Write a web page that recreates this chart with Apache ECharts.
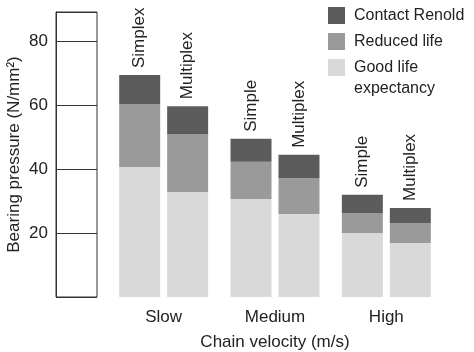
<!DOCTYPE html>
<html><head><meta charset="utf-8">
<script src="https://cdn.jsdelivr.net/npm/echarts@6/dist/echarts.min.js"></script>
<style>html,body{margin:0;padding:0;background:#fff}#c{width:474px;height:352px}</style>
</head><body><div id="c"></div>
<script>
const categories = ['Slow', 'Medium', 'High'];
const yTicks = [20, 40, 60, 80];
const leftLabels = ['Simplex', 'Simple', 'Simple'];
const rightLabels = ['Multiplex', 'Multiplex', 'Multiplex'];
// stacked segment sizes (N/mm2)
const goodSimplex = [40.6, 30.6, 20.0];
const reducedSimplex = [19.7, 11.6, 6.2];
const contactSimplex = [9.0, 7.2, 5.7];
const goodMultiplex = [32.8, 25.9, 16.9];
const reducedMultiplex = [18.1, 11.3, 6.2];
const contactMultiplex = [8.7, 7.2, 4.7];
const seriesNames = ['Contact Renold', 'Reduced life', 'Good life\nexpectancy'];

const FONT = '"Liberation Sans", Arial, sans-serif';
const TXT = '#222';
const C_CONTACT = '#5b5c5b', C_RED = '#9a9a9a', C_GOOD = '#d9d9d9';
const YMAX = 89;

function bar(name, data, stack, color, labels) {
  const s = {
    name, type: 'bar', stack, data, xAxisIndex: 1, yAxisIndex: 1,
    barWidth: 41, barGap: '17%',
    itemStyle: { color }, emphasis: { disabled: true }
  };
  if (labels) {
    s.label = {
      show: true, position: 'top', rotate: 90, align: 'left', verticalAlign: 'middle',
      distance: 7, fontFamily: FONT, fontSize: 17, color: TXT,
      formatter: p => labels[p.dataIndex]
    };
  }
  return s;
}

const chart = echarts.init(document.getElementById('c'), null, { renderer: 'canvas' });
chart.setOption({
  animation: false,
  textStyle: { fontFamily: FONT },
  grid: [
    { left: 56, width: 41, top: 12, height: 285, show: true, borderColor: '#333', borderWidth: 1, backgroundColor: '#fff', outerBoundsMode: 'none' },
    { left: 108, right: 32, top: 12, height: 285, outerBoundsMode: 'none' }
  ],
  legend: [
    {
      data: [seriesNames[0], seriesNames[1]],
      orient: 'vertical', left: 328, top: 7, itemWidth: 17, itemHeight: 17, itemGap: 9,
      icon: 'rect', selectedMode: false, padding: 0,
      textStyle: { fontFamily: FONT, fontSize: 16, color: TXT, lineHeight: 17, padding: [0, 0, 0, 4] }
    },
    {
      data: [seriesNames[2]],
      orient: 'vertical', left: 328, top: 36, itemWidth: 17, itemHeight: 17,
      icon: 'rect', selectedMode: false, padding: 0,
      formatter: name => '\n' + name,
      textStyle: { fontFamily: FONT, fontSize: 16, color: TXT, lineHeight: 21, padding: [0, 0, 0, 4] }
    }
  ],
  xAxis: [
    { gridIndex: 0, type: 'value', show: false, min: 0, max: 1 },
    {
      gridIndex: 1, type: 'category', data: categories,
      axisLine: { show: false }, axisTick: { show: false },
      axisLabel: { fontFamily: FONT, fontSize: 17, color: TXT, margin: 12 },
      name: 'Chain velocity (m/s)', nameLocation: 'middle', nameGap: 37,
      nameTextStyle: { fontFamily: FONT, fontSize: 17, color: TXT }
    }
  ],
  yAxis: [
    {
      gridIndex: 0, type: 'value', min: 0, max: YMAX, interval: 20,
      axisLine: { show: true, lineStyle: { color: '#333' } }, axisTick: { show: false },
      splitLine: { show: true, lineStyle: { color: '#333', width: 1 } },
      axisLabel: {
        fontFamily: FONT, fontSize: 17, color: TXT, margin: 8,
        formatter: v => (yTicks.indexOf(v) >= 0 ? String(v) : '')
      },
      name: 'Bearing pressure (N/mm²)', nameLocation: 'middle', nameGap: 33,
      nameTextStyle: { fontFamily: FONT, fontSize: 17, color: TXT }
    },
    { gridIndex: 1, type: 'value', min: 0, max: YMAX, show: false }
  ],
  series: [
    bar(seriesNames[2], goodSimplex, 's', C_GOOD),
    bar(seriesNames[1], reducedSimplex, 's', C_RED),
    bar(seriesNames[0], contactSimplex, 's', C_CONTACT, leftLabels),
    bar(seriesNames[2], goodMultiplex, 'm', C_GOOD),
    bar(seriesNames[1], reducedMultiplex, 'm', C_RED),
    bar(seriesNames[0], contactMultiplex, 'm', C_CONTACT, rightLabels)
  ]
});
</script></body></html>
